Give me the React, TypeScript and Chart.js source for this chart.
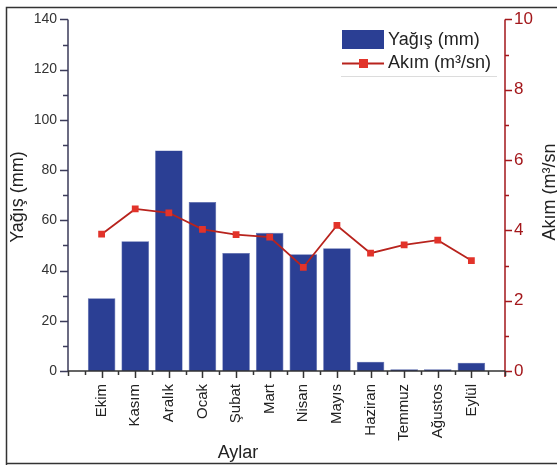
import React, { useEffect, useRef } from 'react';
import { Chart, registerables } from 'chart.js';
Chart.register(...registerables);

const months = ['Ekim', 'Kasım', 'Aralık', 'Ocak', 'Şubat', 'Mart', 'Nisan', 'Mayıs', 'Haziran', 'Temmuz', 'Ağustos', 'Eylül'];
const yagis = [29.0, 51.7, 87.8, 67.3, 47.0, 55.0, 46.5, 48.9, 3.7, 0.7, 0.7, 3.3];
const akim = [3.89, 4.61, 4.5, 4.03, 3.88, 3.81, 2.95, 4.14, 3.35, 3.59, 3.72, 3.14];
const yagisLabel = 'Yağış (mm)';
const akimLabel = 'Akım (m³/sn)';
const xTitle = 'Aylar';
const leftTitle = 'Yağış (mm)';
const rightTitle = 'Akım (m³/sn';

const FONT = "'Liberation Sans', Arial, Helvetica, sans-serif";
const BAR = '#2b3f94';
const LINE = '#b8231d';
const MARK = '#e2332a';
const RED_AXIS = '#a3171b';

const decorPlugin = {
  id: 'decor',
  afterDraw(chart: any) {
    const ctx = chart.ctx;
    const x = chart.scales.x;
    const y = chart.scales.y;
    const y1 = chart.scales.y1;
    const { left, right, top, bottom } = chart.chartArea;
    ctx.save();
    // frame
    ctx.strokeStyle = '#333';
    ctx.lineWidth = 1.5;
    ctx.beginPath();
    ctx.moveTo(6.5, 470);
    ctx.lineTo(6.5, 7.5);
    ctx.lineTo(570, 7.5);
    ctx.moveTo(6.5, 463.5);
    ctx.lineTo(570, 463.5);
    ctx.stroke();

    // left axis
    ctx.strokeStyle = '#3b3b5a';
    ctx.lineWidth = 1.5;
    ctx.beginPath();
    ctx.moveTo(left, top);
    ctx.lineTo(left, bottom);
    for (let v = 0; v <= 140; v += 10) {
      const py = Math.round(y.getPixelForValue(v)) + 0.5;
      const len = v % 20 === 0 ? 8 : 5;
      ctx.moveTo(left, py);
      ctx.lineTo(left - len, py);
    }
    ctx.stroke();

    // right axis
    ctx.strokeStyle = RED_AXIS;
    ctx.beginPath();
    ctx.moveTo(right, top);
    ctx.lineTo(right, bottom + 6);
    for (let v = 0; v <= 10; v += 1) {
      const py = Math.round(y1.getPixelForValue(v)) + 0.5;
      const len = v % 2 === 0 ? 7 : 4;
      ctx.moveTo(right, py);
      ctx.lineTo(right + len, py);
    }
    ctx.stroke();

    // bottom axis
    ctx.strokeStyle = '#333';
    ctx.beginPath();
    ctx.moveTo(left, bottom);
    ctx.lineTo(right, bottom);
    for (let i = 0; i <= 13; i++) {
      const px = Math.round(x.getPixelForValue(i)) + 0.5;
      const len = i >= 1 && i <= 12 ? 7 : 5;
      ctx.moveTo(px, bottom);
      ctx.lineTo(px, bottom + len);
      if (i < 13) {
        const pm = Math.round((x.getPixelForValue(i) + x.getPixelForValue(i + 1)) / 2) + 0.5;
        ctx.moveTo(pm, bottom);
        ctx.lineTo(pm, bottom + 4);
      }
    }
    ctx.stroke();

    // titles
    ctx.fillStyle = '#222';
    ctx.font = `18px ${FONT}`;
    ctx.textAlign = 'center';
    ctx.textBaseline = 'middle';
    ctx.fillText(xTitle, 238, 453);
    ctx.save();
    ctx.translate(18, 197);
    ctx.rotate(-Math.PI / 2);
    ctx.fillText(leftTitle, 0, 0);
    ctx.restore();
    ctx.save();
    ctx.translate(550, 192);
    ctx.rotate(-Math.PI / 2);
    ctx.fillText(rightTitle, 0, 0);
    ctx.restore();

    // legend
    ctx.fillStyle = BAR;
    ctx.fillRect(342, 30, 42, 19);
    ctx.strokeStyle = LINE;
    ctx.lineWidth = 2;
    ctx.beginPath();
    ctx.moveTo(342, 63.5);
    ctx.lineTo(384, 63.5);
    ctx.stroke();
    ctx.fillStyle = MARK;
    ctx.fillRect(359, 59, 9, 9);
    ctx.fillStyle = '#222';
    ctx.textAlign = 'left';
    ctx.font = `18px ${FONT}`;
    ctx.fillText(yagisLabel, 388, 40);
    ctx.fillText(akimLabel, 388, 63);
    ctx.strokeStyle = '#dcdcdc';
    ctx.lineWidth = 1;
    ctx.beginPath();
    ctx.moveTo(341, 76.5);
    ctx.lineTo(497, 76.5);
    ctx.stroke();
    ctx.restore();
  },
};

export default function App() {
  const ref = useRef<HTMLCanvasElement>(null);
  useEffect(() => {
    if (!ref.current) return;
    const labels = ['', ...months, ''];
    const chart = new Chart(ref.current, {
      type: 'bar',
      data: {
        labels,
        datasets: [
          {
            type: 'line',
            label: akimLabel,
            data: [null, ...akim, null],
            yAxisID: 'y1',
            borderColor: LINE,
            borderWidth: 1.8,
            pointStyle: 'rect',
            pointRadius: 4.8,
            pointBackgroundColor: MARK,
            pointBorderColor: MARK,
            pointBorderWidth: 0,
            order: 0,
          } as any,
          {
            type: 'bar',
            label: yagisLabel,
            data: [null, ...yagis, null],
            yAxisID: 'y',
            backgroundColor: BAR,
            borderColor: '#5060a8',
            borderWidth: 0.6,
            barPercentage: 0.82,
            categoryPercentage: 1,
            order: 1,
          } as any,
        ],
      },
      options: {
        animation: false,
        responsive: false,
        devicePixelRatio: 1,
        layout: { padding: { top: 17, left: 0, right: 0, bottom: 0 } },
        plugins: { legend: { display: false }, tooltip: { enabled: false } },
        scales: {
          x: {
            type: 'category',
            offset: false,
            grid: { display: false, drawTicks: false },
            border: { display: false },
            ticks: {
              autoSkip: false,
              maxRotation: 90,
              minRotation: 90,
              padding: 13,
              color: '#222',
              font: { family: FONT, size: 15 },
            },
            afterFit: (s: any) => { s.height = 94; },
          },
          y: {
            position: 'left',
            min: 0,
            max: 140,
            grid: { display: false, drawTicks: false },
            border: { display: false },
            ticks: { stepSize: 20, padding: 11, color: '#333', font: { family: FONT, size: 14 } },
            afterFit: (s: any) => { s.width = 68; },
          },
          y1: {
            position: 'right',
            min: 0,
            max: 10,
            grid: { display: false, drawTicks: false },
            border: { display: false },
            ticks: { stepSize: 2, padding: 9, color: RED_AXIS, font: { family: FONT, size: 17 } },
            afterFit: (s: any) => { s.width = 52; },
          },
        },
      },
      plugins: [decorPlugin],
    });
    return () => chart.destroy();
  }, []);
  return (
    <div style={{ position: 'fixed', left: 0, top: 0, width: 557, height: 465, background: '#fff' }}>
      <canvas ref={ref} width={557} height={465} style={{ display: 'block' }} />
    </div>
  );
}
